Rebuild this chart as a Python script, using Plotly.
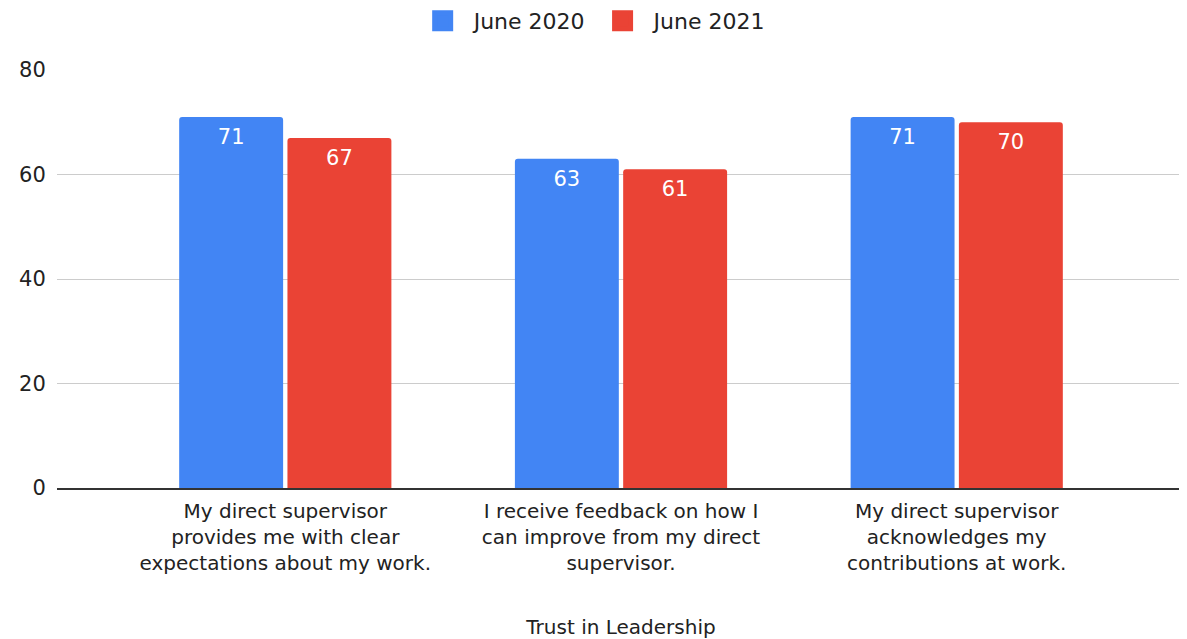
import plotly.graph_objects as go

categories = [
    "My direct supervisor<br>provides me with clear<br>expectations about my work.",
    "I receive feedback on how I<br>can improve from my direct<br>supervisor.",
    "My direct supervisor<br>acknowledges my<br>contributions at work.",
]
series_names = ["June 2020", "June 2021"]
june_2020 = [71, 63, 71]
june_2021 = [67, 61, 70]
y_ticks = [0, 20, 40, 60, 80]

COLORS = ["#4285F4", "#EA4335"]
FONT = "DejaVu Sans, Arial, sans-serif"
TXT = "#222222"
GAP = 0.355

fig = go.Figure()
for name, vals, col in zip(series_names, [june_2020, june_2021], COLORS):
    fig.add_trace(go.Bar(
        name=name, x=categories, y=vals, offsetgroup=name,
        marker=dict(color=col, cornerradius=3, line=dict(width=0)),
        showlegend=False, hoverinfo="x+y+name",
    ))
# value labels (grouped scatter aligned with bars)
for name, vals in zip(series_names, [june_2020, june_2021]):
    fig.add_trace(go.Scatter(
        x=categories, y=vals, mode="markers+text", text=[str(v) for v in vals],
        textposition="bottom center", offsetgroup=name,
        marker=dict(size=16, color="rgba(0,0,0,0)"),
        textfont=dict(color="white", size=21, family=FONT),
        showlegend=False, hoverinfo="skip",
    ))
# legend entries
for name, col in zip(series_names, COLORS):
    fig.add_trace(go.Scatter(
        x=[None], y=[None], mode="markers", name=name,
        marker=dict(symbol="square", size=16, color=col, line=dict(color=col, width=5)),
        showlegend=True,
    ))

fig.update_layout(
    width=1187, height=639,
    barmode="group", bargap=GAP, bargroupgap=0.04,
    scattermode="group", scattergap=GAP,
    plot_bgcolor="white", paper_bgcolor="white",
    margin=dict(l=49, r=10, t=62, b=159),
    font=dict(family=FONT, size=20, color=TXT),
    showlegend=True,
    legend=dict(orientation="h", x=0.474, xref="paper", xanchor="center",
                y=1 - 13 / 639, yref="container", yanchor="middle",
                font=dict(size=22, color=TXT, family=FONT),
                itemwidth=52, traceorder="normal", itemsizing="trace"),
    xaxis=dict(
        range=[-0.68, 2.68], showgrid=False, showline=True, linecolor="#333333",
        linewidth=2, ticks="", tickfont=dict(size=20, color=TXT), ticklabelstandoff=4,
        title=dict(text="Trust in Leadership", font=dict(size=20, color=TXT), standoff=46),
    ),
    yaxis=dict(
        range=[0, 80], tickvals=y_ticks, showgrid=True, gridcolor="#cccccc", gridwidth=1,
        zeroline=False, ticks="outside", ticklen=6, tickcolor="rgba(0,0,0,0)",
        tickfont=dict(size=21, color=TXT),
    ),
)

fig.write_html("out.html")
